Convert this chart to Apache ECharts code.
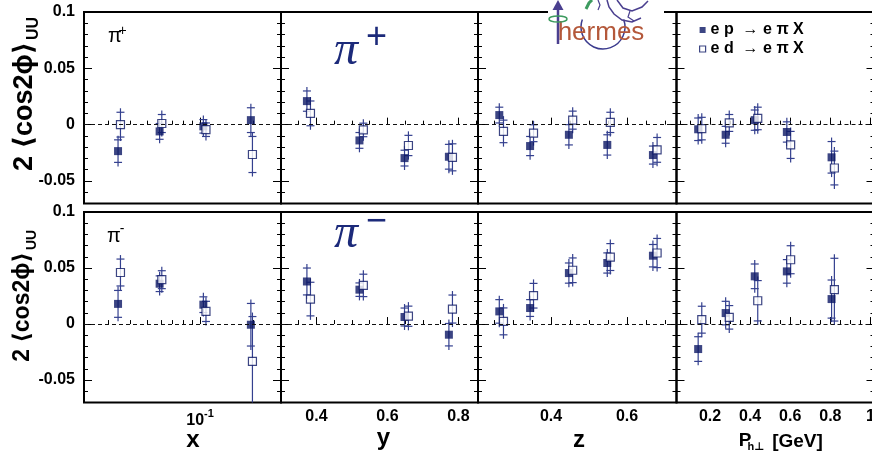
<!DOCTYPE html>
<html>
<head>
<meta charset="utf-8">
<script src="https://cdn.jsdelivr.net/npm/echarts@6/dist/echarts.min.js"></script>
<style>
  html, body { margin: 0; padding: 0; background: #fff; }
  #chart { width: 872px; height: 456px; }
</style>
</head>
<body>
<div id="chart"></div>
<script>
// HERMES 2<cos2phi>_UU vs x, y, z, Ph_perp — pi+ (top row) / pi- (bottom row)

const FONT = "'Liberation Sans', 'DejaVu Sans', sans-serif";
const NAVY = "#0b1664";
const BAR  = "#34408f";
const EP_NAME = "e p  \u2192 e \u03c0 X";
const ED_NAME = "e d  \u2192 e \u03c0 X";

// ── bin centres (ep / ed slightly shifted) ─────────────────────────────
const X_EP  = [0.0343, 0.059, 0.1044, 0.194];
const X_ED  = [0.0354, 0.0607, 0.108, 0.198];
const Y_EP  = [0.373, 0.521, 0.648, 0.773];
const Y_ED  = [0.383, 0.532, 0.659, 0.783];
const Z_EP  = [0.264, 0.345, 0.447, 0.548, 0.668];
const Z_ED  = [0.275, 0.354, 0.457, 0.556, 0.679];
const PT_EP = [0.141, 0.278, 0.423, 0.583, 0.806];
const PT_ED = [0.159, 0.296, 0.438, 0.602, 0.82];

// ── pi+ values / errors ────────────────────────────────────────────────
const PIP_X_EP      = [-0.0235, -0.006, -0.0015, 0.004];
const PIP_X_EP_ERR  = [0.010, 0.007, 0.006, 0.011];
const PIP_X_ED      = [0.0, 0.001, -0.0045, -0.0265];
const PIP_X_ED_ERR  = [0.011, 0.008, 0.006, 0.016];
const PIP_Y_EP      = [0.0209, -0.014, -0.0297, -0.0285];
const PIP_Y_EP_ERR  = [0.009, 0.007, 0.007, 0.011];
const PIP_Y_ED      = [0.010, -0.0047, -0.0185, -0.029];
const PIP_Y_ED_ERR  = [0.011, 0.006, 0.009, 0.012];
const PIP_Z_EP      = [0.0085, -0.019, -0.009, -0.018, -0.027];
const PIP_Z_EP_ERR  = [0.007, 0.0085, 0.009, 0.009, 0.008];
const PIP_Z_ED      = [-0.006, -0.0076, 0.004, 0.002, -0.0224];
const PIP_Z_ED_ERR  = [0.010, 0.0075, 0.008, 0.009, 0.011];
const PIP_PT_EP     = [-0.0041, -0.009, 0.004, -0.0065, -0.029];
const PIP_PT_EP_ERR = [0.010, 0.0075, 0.009, 0.009, 0.014];
const PIP_PT_ED     = [-0.0035, 0.0015, 0.0055, -0.018, -0.0385];
const PIP_PT_ED_ERR = [0.010, 0.0075, 0.010, 0.012, 0.015];

// ── pi- values / errors ────────────────────────────────────────────────
const PIM_X_EP      = [0.018, 0.036, 0.0173, -0.0006];
const PIM_X_EP_ERR  = [0.012, 0.007, 0.007, 0.019];
const PIM_X_ED      = [0.046, 0.0396, 0.0113, -0.0333];
const PIM_X_ED_ERR  = [0.012, 0.008, 0.009, 0.040];
const PIM_Y_EP      = [0.038, 0.0307, 0.0063, -0.0095];
const PIM_Y_EP_ERR  = [0.012, 0.006, 0.008, 0.010];
const PIM_Y_ED      = [0.0223, 0.0345, 0.007, 0.0134];
const PIM_Y_ED_ERR  = [0.015, 0.010, 0.009, 0.0125];
const PIM_Z_EP      = [0.0113, 0.0143, 0.0455, 0.0545, 0.061];
const PIM_Z_EP_ERR  = [0.0105, 0.0075, 0.009, 0.009, 0.010];
const PIM_Z_ED      = [0.0024, 0.0253, 0.048, 0.0598, 0.0634];
const PIM_Z_ED_ERR  = [0.012, 0.011, 0.011, 0.012, 0.013];
const PIM_PT_EP     = [-0.0223, 0.0098, 0.0426, 0.047, 0.0223];
const PIM_PT_EP_ERR = [0.011, 0.0105, 0.011, 0.0105, 0.017];
const PIM_PT_ED     = [0.0039, 0.006, 0.0208, 0.0574, 0.0307];
const PIM_PT_ED_ERR = [0.012, 0.0105, 0.018, 0.0125, 0.028];

// ── ticks ──────────────────────────────────────────────────────────────
const V_MAJOR  = [-0.05, 0, 0.05, 0.1];
const V_MINOR  = [-0.07, -0.06, -0.04, -0.03, -0.02, -0.01, 0.01, 0.02, 0.03, 0.04, 0.06, 0.07, 0.08, 0.09];
const X_MAJOR  = [0.1];
const X_MINOR  = [0.03, 0.04, 0.05, 0.06, 0.07, 0.08, 0.09, 0.2];
const Y_MAJOR  = [0.4, 0.6, 0.8];
const Y_MINOR  = [0.35, 0.45, 0.5, 0.55, 0.65, 0.7, 0.75, 0.85];
const Z_MAJOR  = [0.4, 0.6];
const Z_MINOR  = [0.25, 0.3, 0.35, 0.45, 0.5, 0.55, 0.65, 0.7];
const PT_MAJOR = [0.2, 0.4, 0.6, 0.8, 1];
const PT_MINOR = [0.05, 0.1, 0.15, 0.25, 0.3, 0.35, 0.45, 0.5, 0.55, 0.65, 0.7, 0.75, 0.85, 0.9, 0.95];

// ── layout ─────────────────────────────────────────────────────────────
const ROWS = [{ top: 12, height: 191.5 }, { top: 212, height: 190.5 }];
const COLS = [
  { left: 84,    width: 197 },
  { left: 281,   width: 197 },
  { left: 478,   width: 198.5 },
  { left: 676.5, width: 198 },
];
const AXES = [
  { log: true, min: 0.022, max: 0.2874, major: X_MAJOR,  minor: X_MINOR },
  {            min: 0.3,   max: 0.855,  major: Y_MAJOR,  minor: Y_MINOR },
  {            min: 0.208, max: 0.73,   major: Z_MAJOR,  minor: Z_MINOR },
  {            min: 0.033, max: 1.02,   major: PT_MAJOR, minor: PT_MINOR },
];
const DATA = [
  [
    { ep: [X_EP,  PIP_X_EP,  PIP_X_EP_ERR],  ed: [X_ED,  PIP_X_ED,  PIP_X_ED_ERR] },
    { ep: [Y_EP,  PIP_Y_EP,  PIP_Y_EP_ERR],  ed: [Y_ED,  PIP_Y_ED,  PIP_Y_ED_ERR] },
    { ep: [Z_EP,  PIP_Z_EP,  PIP_Z_EP_ERR],  ed: [Z_ED,  PIP_Z_ED,  PIP_Z_ED_ERR] },
    { ep: [PT_EP, PIP_PT_EP, PIP_PT_EP_ERR], ed: [PT_ED, PIP_PT_ED, PIP_PT_ED_ERR] },
  ],
  [
    { ep: [X_EP,  PIM_X_EP,  PIM_X_EP_ERR],  ed: [X_ED,  PIM_X_ED,  PIM_X_ED_ERR] },
    { ep: [Y_EP,  PIM_Y_EP,  PIM_Y_EP_ERR],  ed: [Y_ED,  PIM_Y_ED,  PIM_Y_ED_ERR] },
    { ep: [Z_EP,  PIM_Z_EP,  PIM_Z_EP_ERR],  ed: [Z_ED,  PIM_Z_ED,  PIM_Z_ED_ERR] },
    { ep: [PT_EP, PIM_PT_EP, PIM_PT_EP_ERR], ed: [PT_ED, PIM_PT_ED, PIM_PT_ED_ERR] },
  ],
];

// error bar: vertical line with "+" shaped caps
function renderErr(params, api) {
  const cs = params.coordSys;
  const x = api.value(0), v = api.value(1), e = api.value(2);
  const hi = api.coord([x, v + e]), lo = api.coord([x, v - e]);
  const px = hi[0];
  const clampY = y => Math.max(cs.y, Math.min(cs.y + cs.height, y));
  const style = { stroke: BAR, lineWidth: 1.2, fill: null };
  const kids = [{ type: "line", shape: { x1: px, y1: clampY(hi[1] - 4), x2: px, y2: clampY(lo[1] + 4) }, style }];
  for (const y of [hi[1], lo[1]]) {
    if (y >= cs.y && y <= cs.y + cs.height)
      kids.push({ type: "line", shape: { x1: px - 4, y1: y, x2: px + 4, y2: y }, style });
  }
  return { type: "group", children: kids };
}

const labelFont = { color: "#000", fontFamily: FONT, fontWeight: "bold", fontSize: 16 };
const grid = [], xAxis = [], yAxis = [], series = [];

ROWS.forEach((r, ri) => COLS.forEach((c, ci) => {
  const g = grid.length;
  const ax = AXES[ci];
  const tx = v => ax.log ? Math.log10(v) : v;
  const showX = ri === 1;
  grid.push({
    left: c.left, top: r.top, width: c.width, height: r.height,
    show: true, borderColor: "#000", borderWidth: 2, backgroundColor: "transparent",
    outerBoundsMode: "none",
  });

  const xi = xAxis.length;
  xAxis.push({
    gridIndex: g, type: "value", position: "bottom",
    min: tx(ax.min), max: tx(ax.max),
    axisLine: { show: false }, splitLine: { show: false },
    axisTick: { inside: true, length: 7, customValues: ax.major.map(tx), lineStyle: { color: "#000" } },
    axisLabel: {
      show: showX, customValues: ax.major.map(tx), margin: 6, ...labelFont,
      formatter: v => ax.log ? (Math.abs(v + 1) < 1e-9 ? "{a|10}{b|-1}" : "") : String(+v.toFixed(2)),
      rich: {
        a: { ...labelFont, lineHeight: 20, verticalAlign: "bottom" },
        b: { ...labelFont, fontSize: 11, lineHeight: 20, verticalAlign: "top" },
      },
    },
  });
  xAxis.push({
    gridIndex: g, type: "value", position: "bottom",
    min: tx(ax.min), max: tx(ax.max),
    axisLine: { show: false }, splitLine: { show: false }, axisLabel: { show: false },
    axisTick: { inside: true, length: 4, customValues: ax.minor.map(tx), lineStyle: { color: "#000" } },
  });

  const yi = yAxis.length;
  for (const pos of ["left", "right"]) {
    yAxis.push({
      gridIndex: g, type: "value", position: pos, min: -0.07, max: 0.1,
      axisLine: { show: false }, splitLine: { show: false },
      axisTick: { inside: true, length: 8, customValues: V_MAJOR, lineStyle: { color: "#000" } },
      axisLabel: {
        show: pos === "left" && ci === 0, customValues: V_MAJOR, margin: 9, ...labelFont,
        formatter: v => String(+v.toFixed(2)),
      },
    });
    yAxis.push({
      gridIndex: g, type: "value", position: pos, min: -0.07, max: 0.1,
      axisLine: { show: false }, splitLine: { show: false }, axisLabel: { show: false },
      axisTick: { inside: true, length: 4, customValues: V_MINOR, lineStyle: { color: "#000" } },
    });
  }

  const cell = DATA[ri][ci];
  for (const key of ["ep", "ed"]) {
    const [xs, vs, es] = cell[key];
    series.push({
      type: "custom", name: "err-" + key, xAxisIndex: xi, yAxisIndex: yi, silent: true,
      renderItem: renderErr, encode: { x: 0, y: 1 }, z: 3,
      data: xs.map((x, i) => [tx(x), vs[i], es[i]]),
    });
    series.push({
      type: "scatter", name: key === "ep" ? EP_NAME : ED_NAME,
      xAxisIndex: xi, yAxisIndex: yi, symbol: "rect", symbolSize: 8, z: 4, silent: true,
      itemStyle: key === "ep"
        ? { color: NAVY }
        : { color: "#fff", borderColor: NAVY, borderWidth: 1.2 },
      data: xs.map((x, i) => [tx(x), vs[i]]),
      markLine: key === "ep" ? {
        silent: true, symbol: "none", label: { show: false },
        lineStyle: { color: "#111", type: [4, 3], width: 1 },
        data: [{ yAxis: 0 }],
      } : undefined,
    });
  }
}));

// ── texts / logo ───────────────────────────────────────────────────────
const txt = (text, x, y, size, extra = {}) => ({
  type: "text", x, y, z: 50,
  style: { text, align: "center", verticalAlign: "middle", fontFamily: FONT, fontWeight: "bold", fontSize: size, fill: "#000", ...extra },
});
// rotated y title; (x, y) = screen point where the main text ends
function yTitle(x, y, size, subSize) {
  return {
    type: "group", x, y, rotation: Math.PI / 2, z: 50,
    children: [
      { type: "text", x: 0, y: 0, style: { text: "2 \u27e8cos2\u03d5\u27e9", align: "right", verticalAlign: "middle", fontFamily: FONT, fontWeight: "bold", fontSize: size, fill: "#000" } },
      { type: "text", x: 2, y: 9, style: { text: "UU", align: "left", verticalAlign: "middle", fontFamily: FONT, fontWeight: "bold", fontSize: subSize, fill: "#000" } },
    ],
  };
}
const PI_BLUE = "#1c2a7a";
const LOGO_PURPLE = "#4a3f8f";
const SERIF = "'Liberation Serif', 'DejaVu Serif', serif";

const graphic = [
  yTitle(25, 42, 27, 16),
  yTitle(23, 252, 23, 14),
  txt("x", 193, 440, 24),
  txt("y", 383.5, 438, 24),
  txt("z", 579, 440, 24),
  txt("P", 745, 440.5, 19),
  txt("h\u22a5", 756, 447, 11),
  txt("[GeV]", 797.5, 441.5, 19),
  // small pion labels
  txt("\u03c0", 115, 36, 20, { fontWeight: "normal" }),
  txt("+", 122.5, 31, 14, { fontWeight: "normal" }),
  txt("\u03c0", 114, 236, 20, { fontWeight: "normal" }),
  txt("-", 122, 229, 14, { fontWeight: "normal" }),
  // big pion labels
  txt("\u03c0", 346, 51, 48, { fontFamily: SERIF, fontStyle: "italic", fontWeight: "normal", fill: PI_BLUE }),
  txt("+", 376.5, 38, 36, { fontWeight: "normal", fill: PI_BLUE }),
  txt("\u03c0", 346, 234, 48, { fontFamily: SERIF, fontStyle: "italic", fontWeight: "normal", fill: PI_BLUE }),
  txt("\u2212", 376.5, 222, 36, { fontWeight: "normal", fill: PI_BLUE }),
  // hermes logo
  { type: "rect", z: 40, shape: { x: 548, y: 8, width: 116, height: 7 }, style: { fill: "#fff" } },
  { type: "arc", z: 41, shape: { cx: 603, cy: 27, r: 22, startAngle: -0.35, endAngle: Math.PI + 0.35, clockwise: true }, style: { stroke: "#3b3b8e", lineWidth: 1.5, fill: null } },
  { type: "text", z: 42, x: 601, y: 33, style: { text: "hermes", align: "center", verticalAlign: "middle", fontFamily: FONT, fontSize: 26, fill: "#b4583a" } },
  { type: "line", z: 42, shape: { x1: 558, y1: 44, x2: 558, y2: 9 }, style: { stroke: LOGO_PURPLE, lineWidth: 2.5 } },
  { type: "polygon", z: 42, shape: { points: [[552.5, 10], [563.5, 10], [558, 0]] }, style: { fill: LOGO_PURPLE } },
  { type: "ellipse", z: 43, shape: { cx: 558, cy: 19, rx: 9, ry: 3 }, style: { stroke: "#3d9b5f", lineWidth: 1.5, fill: null } },
  { type: "polyline", z: 42, shape: { points: [[586, 9], [589, 3], [592, 0]] }, style: { stroke: "#3d9b5f", lineWidth: 3 } },
  { type: "polyline", z: 42, shape: { points: [[607, 0], [609, 7], [614, 14], [622, 20], [632, 22], [641, 18]] }, style: { stroke: LOGO_PURPLE, lineWidth: 1.5, fill: null } },
  { type: "polyline", z: 42, shape: { points: [[617, 0], [623, 8], [632, 11], [642, 7], [648, 1]] }, style: { stroke: LOGO_PURPLE, lineWidth: 1.5, fill: null } },
  { type: "polyline", z: 42, shape: { points: [[630, 11], [628, 17], [634, 21]] }, style: { stroke: LOGO_PURPLE, lineWidth: 1.2, fill: null } },
  { type: "polyline", z: 42, shape: { points: [[598, 0], [600, 5], [598, 10]] }, style: { stroke: LOGO_PURPLE, lineWidth: 1.2, fill: null } },
];

const chart = echarts.init(document.getElementById("chart"), null, { renderer: "canvas" });
chart.setOption({
  backgroundColor: "#fff",
  animation: false,
  grid, xAxis, yAxis, series, graphic,
  legend: {
    left: 694, top: 17, orient: "vertical", itemWidth: 6, itemHeight: 6, itemGap: 3,
    selectedMode: false,
    textStyle: { fontFamily: FONT, fontWeight: "bold", fontSize: 16, color: "#000" },
    data: [
      { name: EP_NAME, icon: "rect", itemStyle: { color: NAVY } },
      { name: ED_NAME, icon: "rect", itemStyle: { color: "#fff", borderColor: NAVY, borderWidth: 1.2 } },
    ],
  },
});
</script>
</body>
</html>
